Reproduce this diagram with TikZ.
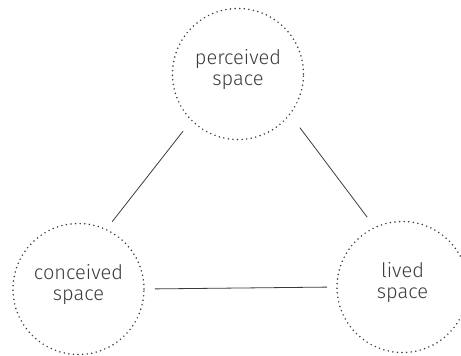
\documentclass[tikz,border=0pt]{standalone}
\usepackage{fontspec}
\setmainfont{Fira Sans}[UprightFont=* Light]
\usepackage{tikz}
\definecolor{ink}{RGB}{60,60,60}

\begin{document}
\begin{tikzpicture}[x=1pt,y=-1pt,
  every node/.style={font=\fontsize{20}{21}\selectfont, text=ink},
  spacecirc/.style={circle, draw=ink, line width=1.7pt, line cap=round,
    dash pattern=on 0pt off 4.6pt, minimum size=131pt,
    label={[align=center, yshift=4pt]center:#1}},
  link/.style={draw=ink, line width=0.8pt}]
  \useasboundingbox (0,0) rectangle (461,356);
  % the three spaces
  \node[spacecirc={perceived\\space}] (perceived) at (238,74) {};
  \node[spacecirc={conceived\\space}] (conceived) at (78.5,289) {};
  \node[spacecirc={lived\\space}] (lived) at (402.5,287) {};
  % links
  \draw[link, shorten <=13pt, shorten >=9pt] (perceived.225) -- (conceived.65);
  \draw[link, shorten <=16pt, shorten >=12pt] (perceived.-38) -- (lived.115);
  \draw[link, shorten <=10pt, shorten >=9pt] (conceived.0) -- (lived.180);
\end{tikzpicture}
\end{document}
